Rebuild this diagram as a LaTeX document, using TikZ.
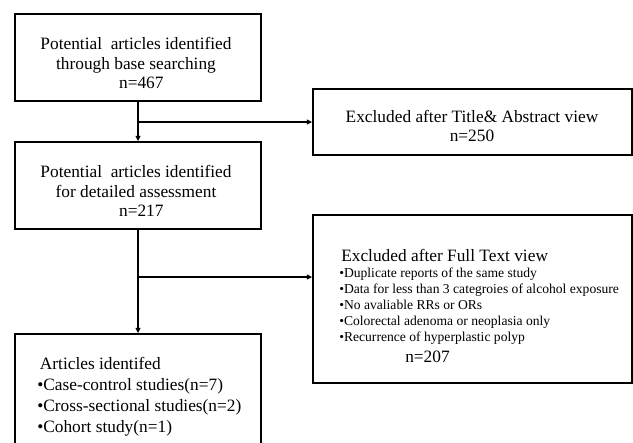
\documentclass[tikz,border=0pt]{standalone}
\usepackage{fontspec}
\setmainfont{Liberation Serif}
\usetikzlibrary{arrows.meta}
\tikzset{
  box/.style={draw, line width=1.3pt, rectangle, inner sep=0pt},
  conn/.style={line width=1pt},
  arr/.style={conn, -{Triangle[length=4pt,width=3.6pt]}},
  big/.style={font=\fontsize{13pt}{14.6pt}\selectfont, inner sep=0pt},
  small/.style={font=\fontsize{10.2pt}{12pt}\selectfont, inner sep=0pt},
}
\begin{document}
\begin{tikzpicture}[x=0.75pt,y=-0.75pt]
\useasboundingbox (0,0) rectangle (633,443);
\clip (0,0) rectangle (633,443);
% boxes
\node[box, minimum width=184.5pt, minimum height=65.25pt] (b1) at (138,57.5) {};
\node[box, minimum width=184.5pt, minimum height=65.25pt] (b2) at (138,185.5) {};
\node[box, minimum width=184.5pt, minimum height=94.5pt] (b3) at (138,397) {};
\node[box, minimum width=239.25pt, minimum height=49.5pt] (e1) at (472.5,122) {};
\node[box, minimum width=239.25pt, minimum height=126pt] (e2) at (472.5,299) {};
% texts
\node[big, align=center] (t1) at (136,63) {Potential\ \ articles identified\\through base searching\\\hspace{8pt}n=467};
\node[big, align=center] (t2) at (136,191) {Potential\ \ articles identified\\for detailed assessment\\\hspace{8pt}n=217};
\node[big, align=center] (t3) at (472,126) {Excluded after Title\& Abstract view\\n=250};
\node[big, anchor=west] (t4) at (341,255) {Excluded after Full Text view};
\node[small, anchor=west, align=left] (t5) at (339,306) {•Duplicate reports of the same study\\•Data for less than 3 categroies of alcohol exposure\\•No avaliable RRs or ORs\\•Colorectal adenoma or neoplasia only\\•Recurrence of hyperplastic polyp};
\node[big, anchor=west] (t6) at (405,357) {n=207};
\node[big, anchor=west, align=left, font=\fontsize{13pt}{15.75pt}\selectfont] (t7) at (37,397) {\hspace{2pt}Articles identifed\\•Case-control studies(n=7)\\•Cross-sectional studies(n=2)\\•Cohort study(n=1)};
% connectors
\coordinate (c1) at (138,122);
\coordinate (c2) at (138,277);
\draw[arr] (b1.south) -- (b2.north);
\draw[arr] (c1) -- (c1 -| e1.west);
\draw[arr] (b2.south) -- (b3.north);
\draw[arr] (c2) -- (c2 -| e2.west);
\end{tikzpicture}
\end{document}
